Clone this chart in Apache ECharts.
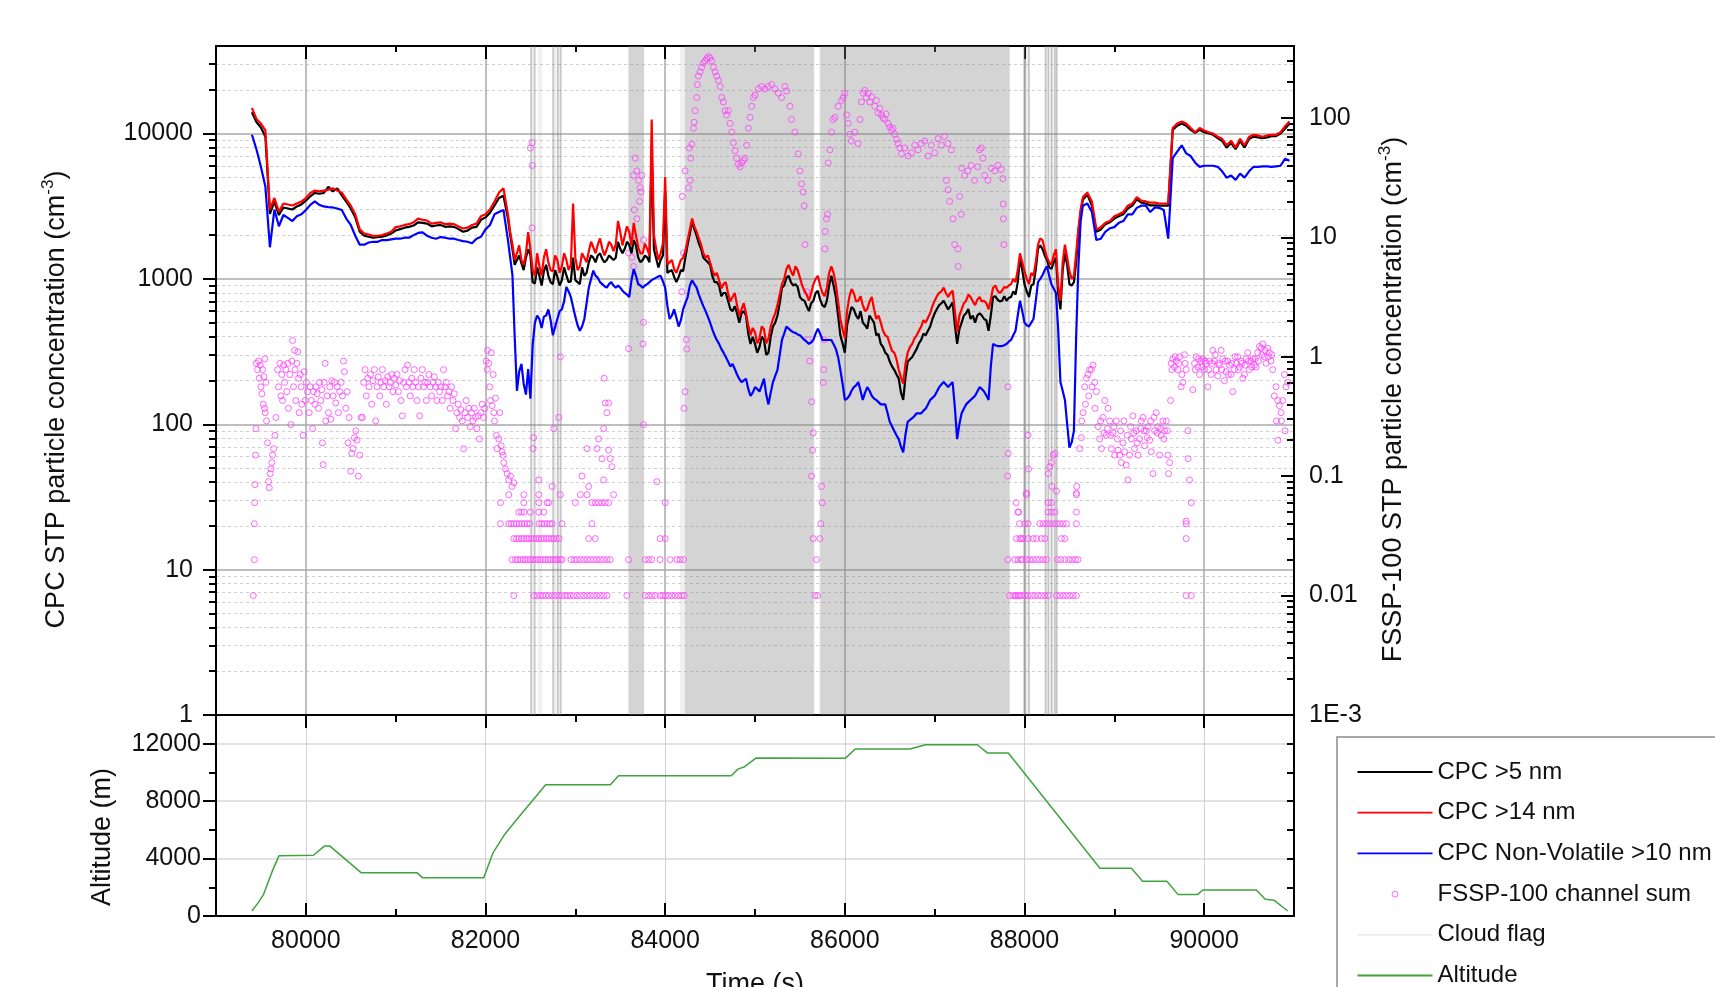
<!DOCTYPE html>
<html>
<head>
<meta charset="utf-8">
<script src="https://cdn.jsdelivr.net/npm/echarts@6/dist/echarts.min.js"></script>
<style>
  html, body { margin: 0; padding: 0; background: #fff; }
  #main { width: 1715px; height: 987px; }
</style>
</head>
<body>
<div id="main"></div>
<script>
// time grid of the CPC records: first sample and step (s)
var t0 = 79400, dt = 50;
// extra in-between samples across the noisy cloud section (s)
var tMid0 = 82275;

// CPC >5 nm (cm-3), one value per 50 s, rows of 1000 s
var cpc5 = [
  14000, 12000, 11000, 9500, 2800, 3400, 2750, 3100, 3050, 3000, 3150, 3250,
  3450, 3700, 3900, 3850, 3900, 4300, 4000, 4200, 3750, 3400, 3050, 2650, 2110, 1980, 1950, 1920, 1940, 1950, 1990, 2050,
  2150, 2200, 2250, 2280, 2330, 2450, 2430, 2400, 2300, 2330, 2350, 2280, 2300, 2280, 2200, 2110, 2150, 2250, 2280, 2550,
  2650, 2850, 3200, 3600, 3730, 2600, 1600, 1350, 1280, 1400, 1450, 930, 1050, 1130, 1050, 920, 1030, 980, 1060, 960,
  980, 920, 1050, 1300, 1400, 1450, 1370, 1350, 1400, 1400, 1610, 1610, 1720, 1850, 1400, 1350, 1400, 7700, 1380, 1350,
  4000, 1130, 1030, 1030, 1130, 1720, 2500, 1980, 1610, 1350, 1250, 950, 900, 800, 708, 600, 580, 580, 560, 357,
  357, 340, 380, 311, 470, 560, 870, 1020, 950, 920, 750, 708, 600, 708, 830, 660, 708, 1050, 750, 409,
  311, 560, 617, 530, 500, 455, 530, 409, 357, 311, 270, 237, 206, 147, 270, 290, 330, 380, 409, 470,
  580, 660, 708, 617, 690, 357, 500, 580, 530, 500, 580, 530, 440, 750, 720, 708, 708, 750, 780, 1400,
  920, 750, 920, 1610, 1610, 1350, 1170, 1400, 617, 1500, 920, 950, 2100, 3500, 3800, 3200, 2110, 2190, 2380, 2450,
  2600, 2700, 2780, 3050, 3190, 3530, 3350, 3300, 3200, 3200, 3190, 3190, 3190, 10600, 11300, 11700, 11300, 10600, 10100, 10600,
  10200, 10000, 9800, 9300, 8900, 8000, 8600, 7800, 8900, 8000, 9200, 9500, 9400, 9300, 9400, 9600, 9600, 10000, 10800, 11700
];
var cpc5Mid = [
  2000, 1250, 1450, 1150, 1600, 950, 1200, 900, 1250, 950, 1150, 900, 1200, 950, 1400,
  950, 1200, 1100, 1450, 1300, 1500, 1300, 1450, 1350, 1800, 1500, 1800, 1500, 1700, 1300, 1450, 1300, 1600, 1200, 1450,
  1100, 1150, 950, 1150, 1400, 2050, 2200, 1750, 1400, 1300, 1050, 950, 760, 800, 620, 650, 500, 600, 420, 400,
  310, 400, 300, 400, 500, 680, 900, 1050, 900, 880, 720, 650, 680, 800, 720, 640, 900, 900, 560, 360,
  480, 640, 560, 600, 480, 560, 500, 420, 340, 300, 250, 220, 165, 210, 280, 310, 360, 420, 440, 530,
  620, 680, 660, 650, 480, 450, 560, 620, 560, 560, 560, 520, 560, 760, 700, 760, 740, 820, 950, 1150,
  820, 900, 1150, 1700, 1450, 1200, 1300, 800, 1150, 1250, 900, 1300, 2900
];

// CPC >14 nm (cm-3)
var cpc14 = [
  15000, 12600, 11700, 10500, 3000, 3600, 2900, 3300, 3250, 3200, 3300, 3400,
  3600, 3900, 4050, 4000, 4050, 4100, 4200, 4050, 3920, 3520, 3190, 2780, 2190, 2050, 2020, 1980, 1980, 2000, 2050, 2110,
  2270, 2300, 2350, 2380, 2450, 2600, 2550, 2520, 2400, 2430, 2450, 2380, 2400, 2380, 2290, 2220, 2250, 2350, 2400, 2700,
  2780, 3000, 3410, 3920, 4200, 2780, 1720, 1500, 1350, 1500, 1600, 1050, 1220, 1400, 1300, 1130, 1350, 1220, 1350, 1250,
  1400, 1220, 1400, 1550, 1650, 1720, 1610, 1600, 1720, 1720, 2110, 1980, 2100, 2430, 1650, 1500, 1610, 12500, 1610, 1500,
  5000, 1300, 1170, 1220, 1400, 1850, 2600, 2110, 1720, 1400, 1300, 1050, 980, 920, 800, 750, 660, 617, 580, 410,
  430, 390, 450, 390, 530, 660, 920, 1170, 1130, 1220, 1020, 830, 708, 920, 1050, 800, 870, 1220, 920, 530,
  390, 750, 800, 708, 660, 617, 750, 530, 500, 409, 357, 311, 237, 190, 311, 357, 409, 470, 500, 580,
  708, 800, 870, 750, 830, 430, 617, 708, 750, 660, 750, 708, 617, 870, 830, 830, 870, 920, 950, 1500,
  1130, 920, 1050, 1720, 1850, 1400, 1250, 1600, 708, 1720, 1130, 1050, 2200, 3650, 3920, 3410, 2190, 2270, 2430, 2500,
  2700, 2780, 2880, 3190, 3300, 3650, 3450, 3410, 3350, 3350, 3300, 3300, 3300, 10900, 11700, 12100, 11700, 10900, 10200, 10900,
  10500, 10200, 10000, 9500, 9200, 8300, 8900, 8000, 9200, 8300, 9500, 9800, 9700, 9500, 9700, 9800, 9800, 10200, 11200, 12100
];
var cpc14Mid = [
  2100, 1350, 1700, 1250, 2100, 1150, 1500, 1050, 1600, 1150, 1450, 1100, 1500, 1150, 3300,
  1150, 1500, 1300, 1800, 1500, 1900, 1450, 1800, 1550, 2500, 1700, 2300, 1700, 2000, 1500, 1750, 1450, 2000, 1350, 1750,
  1250, 1350, 1100, 1350, 1550, 2200, 2300, 1900, 1500, 1450, 1150, 1100, 860, 950, 700, 800, 560, 680, 480, 460,
  360, 470, 360, 470, 580, 780, 1000, 1250, 1050, 1150, 900, 780, 800, 1000, 900, 760, 1100, 1100, 700, 450,
  600, 850, 700, 760, 600, 700, 620, 560, 440, 400, 320, 280, 210, 260, 340, 390, 440, 520, 540, 650,
  760, 820, 800, 800, 600, 560, 680, 780, 700, 720, 700, 680, 720, 900, 800, 880, 900, 1000, 1150, 1300,
  1000, 1100, 1300, 1900, 1600, 1300, 1450, 900, 1300, 1400, 1000, 1500, 3000
];

// CPC Non-Volatile >10 nm (cm-3)
var cpcNV = [
  9800, 7800, 5900, 4300, 1650, 3000, 2300, 2750, 2630, 2500, 2700, 2780,
  2980, 3230, 3410, 3230, 3150, 3120, 3100, 3050, 2980, 2600, 2350, 1980, 1720, 1720, 1780, 1800, 1800, 1850, 1850, 1870,
  1890, 1890, 1920, 1920, 2000, 2070, 2090, 1980, 1920, 1890, 1940, 1920, 1890, 1890, 1850, 1820, 1800, 1760, 1890, 1950,
  2190, 2350, 2780, 2880, 2980, 1850, 1060, 170, 260, 160, 150, 500, 530, 550, 617, 409, 530, 617, 880, 750,
  550, 440, 530, 870, 1140, 1020, 920, 870, 950, 870, 870, 800, 750, 1170, 920, 870, 920, 980, 1020, 1050,
  870, 530, 617, 470, 617, 750, 980, 870, 708, 600, 500, 409, 357, 311, 270, 260, 220, 195, 206, 157,
  180, 168, 206, 137, 195, 237, 380, 470, 440, 425, 409, 380, 357, 380, 455, 380, 380, 380, 330, 237,
  147, 157, 180, 195, 147, 180, 157, 147, 137, 137, 104, 90, 79, 64, 104, 110, 119, 119, 128, 147,
  157, 180, 195, 180, 195, 79, 119, 137, 147, 157, 180, 168, 147, 357, 345, 345, 357, 380, 440, 708,
  500, 470, 530, 950, 1060, 1220, 920, 800, 195, 147, 69, 90, 1220, 3190, 3300, 2880, 1850, 1890, 2110, 2230,
  2270, 2430, 2500, 2780, 2780, 3080, 3190, 3190, 2880, 3100, 3080, 2980, 1890, 6770, 7500, 8300, 7300, 7000, 6300, 5900,
  6000, 6000, 6000, 5900, 5500, 4970, 5150, 4800, 5300, 4970, 5500, 5900, 5900, 5950, 5950, 5900, 5950, 6000, 6700, 6500
];
var cpcNVMid = [
  1400, 400, 230, 190, 240, 350, 560, 460, 560, 520, 470, 600, 700, 820, 640,
  480, 470, 680, 1000, 1050, 950, 890, 920, 900, 900, 830, 780, 980, 1050, 900, 900, 950, 1000, 1040, 960,
  650, 560, 540, 520, 680, 900, 920, 780, 650, 550, 450, 380, 330, 290, 250, 240, 205, 200, 175, 165,
  175, 185, 160, 165, 215, 300, 420, 455, 430, 415, 395, 370, 365, 420, 420, 380, 380, 355, 290, 190,
  150, 170, 185, 170, 165, 170, 150, 142, 137, 120, 97, 84, 70, 85, 107, 114, 119, 124, 137, 152,
  168, 188, 188, 188, 130, 100, 128, 142, 152, 168, 175, 158, 250, 350, 345, 350, 370, 410, 560, 600,
  480, 500, 700, 1000, 1150, 1050, 860, 450, 170, 100, 75, 400, 2500
];

// altitude (m) against time (s)
var altitude = [
  [79400, 350], [79470, 930], [79530, 1510], [79620, 3020], [79700, 4190], [80085, 4230], [80210, 4880],
  [80265, 4880], [80615, 3020], [81235, 3020], [81300, 2670], [81980, 2670], [82085, 4420], [82215, 5700],
  [82320, 6510], [82670, 9140], [83390, 9140], [83480, 9770], [84735, 9770], [84810, 10230], [84885, 10400],
  [85010, 11000], [86005, 10980], [86115, 11630], [86725, 11630], [86900, 11930], [87475, 11930], [87590, 11350],
  [87820, 11350], [88840, 3330], [89190, 3330], [89315, 2420], [89585, 2420], [89710, 1490], [89925, 1490],
  [89985, 1810], [90580, 1810], [90680, 1160], [90780, 1090], [90930, 350]
];

// FSSP-100 channel sum (cm-3): counts that sit on the lowest discrete levels
var fsspLevels = [0.01, 0.02, 0.03, 0.04, 0.05, 0.06, 0.07];
var fsspRow001 = [79415, 82315, 82537, 82574, 82611, 82641, 82670, 82704, 82741, 82778, 82815, 82852, 82889, 82915,
  82944, 82981, 83019, 83056, 83093, 83130, 83167, 83204, 83241, 83278, 83315, 83352, 83574, 83778, 83815, 83852,
  83889, 83944, 83974, 84004, 84037, 84074, 84111, 84148, 84185, 84211, 85667, 85696, 87833, 87870, 87893, 87907,
  87930, 87944, 87967, 88004, 88041, 88078, 88115, 88152, 88189, 88226, 88263, 88356, 88393, 88430, 88467, 88504,
  88541, 88578, 89800, 89856];
var fsspRow002 = [79426, 82296, 82333, 82359, 82389, 82419, 82444, 82470, 82500, 82530, 82556, 82581, 82611, 82641,
  82667, 82696, 82722, 82752, 82778, 82804, 82833, 82852, 82952, 82989, 83019, 83056, 83093, 83130, 83167, 83204,
  83241, 83278, 83315, 83352, 83389, 83593, 83778, 83815, 83852, 83944, 84056, 84130, 84167, 84204, 85685, 87815,
  87893, 87930, 87963, 87974, 88022, 88059, 88096, 88133, 88170, 88207, 88244, 88367, 88404, 88448, 88493, 88530,
  88567, 88596];
var fsspRow003 = [82315, 82344, 82370, 82400, 82426, 82456, 82481, 82507, 82537, 82567, 82593, 82622, 82648, 82678,
  82704, 82733, 82759, 82789, 82819, 83148, 83222, 83944, 84000, 85648, 85722, 87911, 87948, 87963, 87985, 88041,
  88096, 88133, 88189, 88226, 88411, 88448, 89800];
var fsspRow004 = [79426, 82167, 82259, 82285, 82315, 82344, 82374, 82404, 82433, 82463, 82493, 82596, 82626, 82656,
  82685, 82715, 82741, 82852, 83185, 85733, 87944, 88004, 88041, 88170, 88207, 88244, 88281, 88319, 88356, 88393,
  88430, 88467, 88578, 89800];
var fsspRow005 = [82370, 82400, 82430, 82500, 82593, 82648, 87926, 87935, 88263, 88300, 88337, 88578];
var fsspRow006 = [79430, 82167, 82426, 82593, 82685, 82704, 83000, 83185, 83222, 83259, 83296, 83333, 83370, 84000,
  85748, 87907, 88263, 88300, 89856];
var fsspRow007 = [82259, 82426, 82593, 82833, 83056, 83130, 83426, 88022, 88578];

// FSSP-100 channel sum, remaining samples [time, cm-3]
var fsspPoints = [
  [79433,0.085],[79440,0.15],[79445,0.25],[79448,0.88],[79463,0.78],[79474,0.92],[79481,0.66],[79493,0.85],
  [79500,0.56],[79511,0.49],[79519,0.78],[79526,0.40],[79533,0.68],[79541,0.37],[79548,0.34],[79556,0.61],
  [79544,0.96],[79563,0.29],[79574,0.19],[79585,0.09],[79593,0.08],[79604,0.105],[79611,0.115],[79622,0.13],
  [79630,0.15],[79641,0.17],[79656,0.22],[79667,0.31],[79685,0.78],[79696,0.56],[79711,0.88],[79722,0.47],
  [79733,0.71],[79741,0.43],[79752,0.85],[79763,0.61],[79778,0.78],[79789,0.51],[79800,0.88],[79807,0.37],
  [79822,0.71],[79833,0.27],[79844,0.92],[79852,1.37],[79863,0.56],[79874,1.13],[79881,0.78],[79889,0.43],
  [79900,0.88],[79911,1.1],[79919,0.66],[79926,0.34],[79937,0.71],[79948,0.56],[79956,0.40],[79970,0.22],
  [79981,0.75],[79993,0.43],[80007,0.61],[80019,0.51],[80037,0.34],[80048,0.56],[80063,0.43],[80074,0.25],
  [80085,0.51],[80100,0.40],[80111,0.56],[80126,0.49],[80141,0.37],[80152,0.61],[80167,0.43],[80178,0.53],
  [80185,0.19],[80193,0.125],[80204,0.61],[80215,0.88],[80222,0.29],[80237,0.47],[80252,0.34],[80267,0.56],
  [80278,0.30],[80289,0.63],[80304,0.47],[80319,0.61],[80333,0.41],[80348,0.56],[80363,0.34],[80378,0.51],
  [80393,0.61],[80407,0.47],[80419,0.92],[80430,0.75],[80444,0.37],[80459,0.51],[80470,0.19],[80481,0.31],
  [80500,0.11],[80511,0.155],[80526,0.17],[80541,0.21],[80556,0.24],[80570,0.2],[80585,0.10],[80600,0.15],
  [80615,0.31],[80630,0.31],[80644,0.61],[80659,0.78],[80674,0.47],[80689,0.66],[80704,0.56],[80719,0.71],
  [80733,0.40],[80748,0.63],[80763,0.78],[80778,0.29],[80793,0.56],[80807,0.68],[80822,0.47],[80837,0.61],
  [80852,0.78],[80867,0.56],[80881,0.63],[80896,0.40],[80911,0.68],[80926,0.56],[80941,0.61],[80956,0.71],
  [80970,0.51],[80985,0.66],[81000,0.58],[81015,0.71],[81030,0.51],[81044,0.63],[81059,0.43],[81074,0.32],
  [81089,0.61],[81104,0.78],[81119,0.56],[81133,0.85],[81148,0.61],[81163,0.47],[81178,0.66],[81193,0.56],
  [81207,0.78],[81222,0.61],[81237,0.43],[81252,0.56],[81267,0.32],[81281,0.66],[81296,0.78],[81311,0.56],
  [81326,0.61],[81341,0.43],[81356,0.61],[81370,0.71],[81385,0.56],[81400,0.47],[81415,0.61],[81430,0.68],
  [81444,0.56],[81459,0.43],[81474,0.61],[81489,0.51],[81504,0.56],[81519,0.43],[81533,0.78],[81548,0.56],
  [81563,0.61],[81578,0.47],[81593,0.51],[81607,0.37],[81622,0.56],[81637,0.43],[81652,0.49],[81667,0.25],
  [81681,0.34],[81696,0.40],[81711,0.31],[81726,0.36],[81741,0.29],[81756,0.17],[81770,0.34],[81785,0.43],
  [81800,0.31],[81815,0.37],[81830,0.26],[81844,0.34],[81859,0.29],[81874,0.37],[81889,0.31],[81904,0.25],
  [81919,0.32],[81933,0.205],[81948,0.34],[81963,0.40],[81978,0.31],[81993,0.37],[82007,0.92],[82022,1.13],
  [82037,0.88],[82019,0.78],[82048,0.56],[82056,0.43],[82063,1.08],[82074,0.39],[82085,0.71],[82093,0.34],
  [82100,0.29],[82111,0.45],[82122,0.22],[82130,0.17],[82148,0.205],[82159,0.34],[82174,0.18],[82185,0.16],
  [82196,0.15],[82204,0.13],[82222,0.115],[82241,0.105],[82259,0.093],[82278,0.1],[82296,0.082],[82315,0.088],
  [82741,0.082],[82593,0.093],[83074,0.1],[83148,0.082],[83315,0.093],[83407,0.12],[83389,0.14],[83296,0.14],
  [83370,0.165],[83241,0.17],[83130,0.17],[83259,0.205],[82537,0.21],[82530,0.17],[83315,0.25],[83352,0.34],
  [83370,0.41],[83333,0.41],[83322,0.66],[82759,0.25],[82815,0.31],[83759,0.27],[82519,12],[82519,62],
  [82500,56],[82522,40],[82833,1.0],[83593,1.17],[83759,1.94],[83752,1.28],[82759,1.8],[83907,0.09],
  [83667,46],[83685,36],[83704,30],[83648,33],[83722,26],[83715,20],[83656,17],[83685,14.3],[83641,10.3],
  [83630,6.8],[83648,5.7],[83759,9.5],[83593,7.4],[83741,33],[83730,24],
  [84185,3.5],[84204,7.4],[84211,0.37],[84222,0.51],[84241,1.16],[84236,1.39],[84190,22],[84222,36],
  [84259,26],[84278,30],[84285,46],[84270,56],[84296,60],[84315,82],[84322,92],[84333,115],[84352,148],
  [84359,190],[84370,224],[84389,243],[84407,265],[84426,288],[84444,300],[84463,313],[84481,326],[84500,318],
  [84519,300],[84537,265],[84556,243],[84574,224],[84593,206],[84611,183],[84630,148],[84648,136],[84667,115],
  [84685,106],[84704,115],[84722,90],[84741,76],[84759,62],[84778,53],[84796,46],[84815,41],[84833,39],
  [84852,42],[84870,44],[84889,46],[84907,59],[84926,82],[84944,101],[84963,125],[84981,148],[85000,155],
  [85037,175],[85074,183],[85111,175],[85148,183],[85185,190],[85222,175],[85259,161],[85296,148],[85333,183],
  [85352,168],[85389,125],[85407,97],[85444,76],[85481,50],[85500,36],[85519,28],[85537,24],[85548,18.4],
  [85556,8.7],[85574,3.5],[85593,1.39],[85611,0.92],[85630,0.42],[85648,0.23],[85641,0.165],[85630,0.1],
  [85741,0.082],[85759,0.61],[85765,0.78],[85770,1.39],[85778,8.0],[85781,11.2],[85796,14.3],[85807,15.6],
  [85815,42],[85833,54],[85852,76],[85870,97],[85889,101],[85926,125],[85963,140],[85981,148],[86000,161],
  [86019,106],[86037,90],[86056,73],[86074,64],[86111,76],[86148,61],[86167,97],[86185,136],[86204,161],
  [86222,170],[86241,148],[86260,160],[86278,136],[86300,150],[86333,125],[86350,140],[86370,110],[86390,120],
  [86407,106],[86425,100],[86444,97],[86460,108],[86481,90],[86500,84],[86519,79],[86537,82],[86556,73],
  [86575,66],[86593,61],[86612,56],[86630,50],[86667,56],[86704,48],[86741,51],[86778,59],[86815,54],
  [86852,61],[86889,64],[86926,48],[86963,59],[87000,51],[87037,67],[87074,59],[87111,70],[87148,61],
  [87185,54],[87130,30],[87150,25],[87167,20],[87204,14.3],[87222,8.7],[87259,8.0],[87262,5.7],[87278,22],
  [87296,15.6],[87300,38],[87333,33],[87370,36],[87407,40],[87444,30],[87481,39],[87500,54],[87519,56],
  [87537,46],[87556,33],[87593,30],[87630,38],[87667,36],[87704,40],[87741,37],[87759,31],[87762,19],
  [87765,14.3],[87770,8.7],[87815,0.56],[87818,0.155],[87812,0.1],
  [88041,0.22],[88045,0.115],[88022,0.072],[88263,0.105],[88281,0.12],[88300,0.13],[88319,0.15],[88337,0.155],
  [88356,0.075],[88305,0.082],[88578,0.072],[88582,0.082],
  [88615,0.17],[88633,0.21],[88637,0.29],[88652,0.34],[88670,0.56],[88689,0.66],[88707,0.71],[88726,0.78],
  [88744,0.78],[88763,0.85],[88781,0.61],[88800,0.51],[88785,0.37],[88752,0.56],[88715,0.47],[88678,0.40],
  [88819,0.26],[88837,0.205],[88856,0.17],[88874,0.31],[88893,0.43],[88911,0.22],[88930,0.37],[88948,0.29],
  [88967,0.17],[88985,0.23],[89004,0.15],[89022,0.29],[89041,0.165],[89059,0.15],[89078,0.13],[89096,0.19],
  [89115,0.16],[89133,0.124],[89152,0.093],[89170,0.15],[89189,0.205],[89207,0.32],[89226,0.17],[89244,0.24],
  [89263,0.15],[89281,0.205],[89300,0.29],[89319,0.31],[89337,0.18],[89356,0.24],[89374,0.26],[89393,0.2],
  [89411,0.16],[89430,0.105],[89448,0.24],[89467,0.34],[89485,0.26],[89504,0.15],[89522,0.22],[89541,0.29],
  [89559,0.24],[89578,0.29],[89596,0.15],[89604,0.105],[89615,0.13],[89626,0.43],
  [88848,0.29],[88885,0.23],[88922,0.25],[88959,0.22],[88996,0.26],[89033,0.205],[89070,0.24],[89107,0.29],
  [89144,0.22],[89181,0.26],[89218,0.23],[89255,0.19],[89293,0.25],[89330,0.24],[89367,0.21],[89404,0.29],
  [89441,0.31],[89478,0.23],[89515,0.25],[89552,0.205],[89589,0.24],
  [89633,0.88],[89652,0.96],[89670,0.82],[89689,0.92],[89707,0.78],[89726,1.0],[89744,0.56],[89763,0.61],
  [89781,1.04],[89800,0.78],[89819,0.24],[89822,0.14],[89837,0.093],[89800,0.042],[89874,0.53],[89893,0.88],
  [89911,1.0],[89930,0.82],[89948,0.71],[89967,0.92],[89985,0.96],[90004,0.78],[90022,0.88],[90041,0.56],
  [90059,0.92],[90078,0.71],[90096,1.13],[90115,0.92],[90133,0.78],[90152,0.69],[90170,0.85],[90189,1.13],
  [90207,0.96],[90226,0.63],[90244,0.75],[90263,0.92],[90281,0.85],[90300,0.71],[90319,0.51],[90337,0.78],
  [90356,0.88],[90374,1.0],[90393,0.82],[90411,0.92],[90430,0.66],[90448,0.71],[90467,0.96],[90485,1.08],
  [90504,0.78],[90522,0.92],[90541,0.96],[90559,0.85],[90578,0.82],[90596,1.08],[90615,1.22],[90633,1.18],
  [90652,1.28],[90670,1.0],[90689,0.88],[90707,1.18],[90726,1.08],[90744,0.92],[90763,0.78],
  [89641,0.78],[89678,1.0],[89715,0.88],[89752,0.71],[89789,0.88],[89900,0.78],[89937,0.96],[89974,0.82],
  [90011,0.92],[90048,0.78],[90085,0.88],[90122,1.04],[90159,0.88],[90196,0.78],[90233,0.92],[90270,0.71],
  [90307,0.88],[90344,1.0],[90381,0.78],[90419,0.88],[90456,0.85],[90493,0.92],[90530,0.82],[90567,0.96],
  [90604,0.92],[90641,1.04],[90678,1.13],[90715,1.0],[90752,1.04],
  [90781,0.47],[90800,0.56],[90819,0.43],[90837,0.39],[90856,0.34],[90874,0.43],[90893,0.71],[90911,0.56],
  [90930,0.61],[90900,0.24],[90805,0.29],[90860,0.29],[90822,0.2]
];

// cloud flag intervals (s): solid flags, single-sample flags, weak flags
var cloudSolid = [[83590, 83765], [84220, 85655], [85725, 87835]];
var cloudLine = [[82500, 82518], [82538, 82556], [82745, 82763], [82796, 82814], [82828, 82846],
  [87988, 88006], [88040, 88058], [88226, 88244], [88256, 88274], [88293, 88311], [88330, 88348], [88350, 88368]];
var cloudFaint = [[82495, 82560], [82580, 82630], [82740, 82850], [84165, 84220], [85655, 85665],
  [85715, 85725], [87985, 88060], [88222, 88370]];

// axis ticks
var timeTicks = [80000, 82000, 84000, 86000, 88000, 90000];
var cpcMinor = [2, 3, 4, 5, 6, 7, 8, 9, 20, 30, 40, 50, 60, 70, 80, 90, 200, 300, 400, 500, 600, 700, 800, 900,
  2000, 3000, 4000, 5000, 6000, 7000, 8000, 9000, 20000, 30000];
var fsspMinor = [0.002, 0.003, 0.004, 0.005, 0.006, 0.007, 0.008, 0.009, 0.02, 0.03, 0.04, 0.05, 0.06, 0.07, 0.08, 0.09,
  0.2, 0.3, 0.4, 0.5, 0.6, 0.7, 0.8, 0.9, 2, 3, 4, 5, 6, 7, 8, 9, 20, 30, 40, 50, 60, 70, 80, 90, 200, 300];
var altMinor = [2000, 6000, 10000];
var altRightTicks = [2000, 4000, 6000, 8000, 10000, 12000];

window.onload = function () {
  var chart = echarts.init(document.getElementById('main'));
  var FONT = 'Liberation Sans, Arial, sans-serif';
  var blackLine = { color: '#000', width: 2 };
  // legend glyphs: a thin bar for lines, a small ring for the FSSP points
  var LINE_ICON = 'path://M0,0L0,0M75,14L75,14M0,6.1L75,6.1L75,7.9L0,7.9Z';
  var RING_ICON = 'path://M0,0L0,0M75,14L75,14M34.5,7A3,3,0,1,0,40.5,7A3,3,0,1,0,34.5,7Z';

  // main 50 s samples plus the in-between samples, in time order
  function cpcSeries(values, mids) {
    var pts = values.map(function (v, i) { return [t0 + i * dt, v]; });
    mids.forEach(function (v, i) { pts.push([tMid0 + i * dt, v]); });
    pts.sort(function (a, b) { return a[0] - b[0]; });
    return pts;
  }

  var fssp = fsspPoints.slice();
  [fsspRow001, fsspRow002, fsspRow003, fsspRow004, fsspRow005, fsspRow006, fsspRow007].forEach(function (row, k) {
    row.forEach(function (t) { fssp.push([t, fsspLevels[k]]); });
  });

  var bands = [];
  cloudFaint.forEach(function (b) {
    bands.push([{ xAxis: b[0], itemStyle: { color: 'rgba(128,128,128,0.12)' } }, { xAxis: b[1] }]);
  });
  cloudLine.forEach(function (b) {
    bands.push([{ xAxis: b[0], itemStyle: { color: 'rgba(128,128,128,0.38)' } }, { xAxis: b[1] }]);
  });
  cloudSolid.forEach(function (b) {
    bands.push([{ xAxis: b[0], itemStyle: { color: 'rgba(128,128,128,0.34)' } }, { xAxis: b[1] }]);
  });

  function timeAxis(grid, pos, extra) {
    var a = {
      type: 'value', gridIndex: grid, position: pos, min: 79000, max: 91000, interval: 1000,
      axisLine: { show: false }, axisLabel: { show: false }, splitLine: { show: false },
      axisTick: { show: false }
    };
    for (var k in extra) a[k] = extra[k];
    return a;
  }

  var option = {
    animation: false,
    backgroundColor: '#fff',
    textStyle: { fontFamily: FONT },
    graphic: [
      { type: 'rect', z: 0, silent: true, shape: { x: 1337, y: 737, width: 500, height: 400 },
        style: { fill: '#fff', stroke: '#8c8c8c', lineWidth: 1.5 } }
    ],
    grid: [
      { left: 216, top: 46, width: 1078, height: 669, outerBoundsMode: 'none' },
      { left: 216, top: 715, width: 1078, height: 201, outerBoundsMode: 'none' }
    ],
    legend: {
      orient: 'vertical', left: 1357, top: 760, width: 400, height: 320,
      padding: 0,
      itemWidth: 75, itemHeight: 14, itemGap: 16.7,
      selectedMode: false, z: 5,
      textStyle: { fontSize: 24, color: '#111', fontFamily: FONT },
      data: [
        { name: 'CPC >5 nm', icon: LINE_ICON },
        { name: 'CPC >14 nm', icon: LINE_ICON },
        { name: 'CPC Non-Volatile >10 nm', icon: LINE_ICON },
        { name: 'FSSP-100 channel sum', icon: RING_ICON,
          itemStyle: { color: 'transparent', borderColor: '#ff40ff', borderWidth: 1 } },
        { name: 'Cloud flag', icon: LINE_ICON },
        { name: 'Altitude', icon: LINE_ICON }
      ]
    },
    xAxis: [
      timeAxis(0, 'bottom', { axisLine: { show: true, lineStyle: blackLine },
        axisTick: { show: true, length: 7, lineStyle: blackLine } }),
      timeAxis(0, 'bottom', { axisTick: { show: true, customValues: timeTicks, length: 13, lineStyle: blackLine },
        splitLine: { show: true, lineStyle: { color: '#a8a8a8', width: 1.5 } } }),
      timeAxis(0, 'top', { axisLine: { show: true, lineStyle: blackLine },
        axisTick: { show: true, inside: true, length: 6, lineStyle: blackLine } }),
      timeAxis(0, 'top', { axisTick: { show: true, inside: true, customValues: timeTicks, length: 13, lineStyle: blackLine } }),
      timeAxis(1, 'bottom', {
        axisLine: { show: true, lineStyle: blackLine },
        axisTick: { show: true, inside: true, length: 7, lineStyle: blackLine },
        axisLabel: { show: true, customValues: timeTicks, fontSize: 25, color: '#111', margin: 13,
          formatter: function (v) { return String(v); } },
        name: 'Time (s)', nameLocation: 'middle', nameGap: 55,
        nameTextStyle: { fontSize: 27, color: '#111' }
      }),
      timeAxis(1, 'bottom', { axisTick: { show: true, inside: true, customValues: timeTicks, length: 13, lineStyle: blackLine },
        splitLine: { show: true, lineStyle: { color: '#d2d2d2', width: 1 } } })
    ],
    yAxis: [
      { type: 'log', logBase: 10, gridIndex: 0, position: 'left', min: 1, max: 40000,
        axisLine: { show: true, lineStyle: blackLine },
        axisTick: { show: true, length: 13, lineStyle: blackLine },
        axisLabel: { fontSize: 25, color: '#111', margin: 23, showMaxLabel: false,
          formatter: function (v) { return String(Math.round(v)); } },
        splitLine: { show: true, lineStyle: { color: '#a8a8a8', width: 1.5 } },
        name: 'CPC STP particle concentration (cm{sup|-3})', nameLocation: 'middle', nameRotate: 90, nameGap: 142,
        nameTextStyle: { fontSize: 27, color: '#111', lineHeight: 34, padding: [0, 38, 0, 0],
          rich: { sup: { fontSize: 17, color: '#111', fontFamily: FONT, verticalAlign: 'top', lineHeight: 17 } } }
      },
      { type: 'log', logBase: 10, gridIndex: 0, position: 'left', min: 1, max: 40000,
        axisLine: { show: false }, axisLabel: { show: false },
        axisTick: { show: true, customValues: cpcMinor, length: 7, lineStyle: blackLine },
        splitLine: { show: true, lineStyle: { color: '#cfcfcf', width: 1, type: [3, 3] } }
      },
      { type: 'log', logBase: 10, gridIndex: 0, position: 'right', min: 0.001, max: 400,
        axisLine: { show: true, lineStyle: blackLine },
        axisTick: { show: true, inside: true, length: 13, lineStyle: blackLine },
        axisLabel: { fontSize: 25, color: '#111', margin: 15, showMaxLabel: false,
          formatter: function (v) { return v < 0.0015 ? '1E-3' : String(+v.toPrecision(3)); } },
        splitLine: { show: false },
        name: 'FSSP-100 STP particle concentration (cm{sup|-3})', nameLocation: 'middle', nameRotate: 90, nameGap: 83,
        nameTextStyle: { fontSize: 27, color: '#111', lineHeight: 34, padding: [0, 38, 0, 0],
          rich: { sup: { fontSize: 17, color: '#111', fontFamily: FONT, verticalAlign: 'top', lineHeight: 17 } } }
      },
      { type: 'log', logBase: 10, gridIndex: 0, position: 'right', min: 0.001, max: 400,
        axisLine: { show: false }, axisLabel: { show: false }, splitLine: { show: false },
        axisTick: { show: true, inside: true, customValues: fsspMinor, length: 7, lineStyle: blackLine }
      },
      { type: 'value', gridIndex: 1, position: 'left', min: 0, max: 14000, interval: 4000,
        axisLine: { show: true, lineStyle: blackLine },
        axisTick: { show: true, length: 13, lineStyle: blackLine },
        axisLabel: { fontSize: 25, color: '#111', margin: 15, showMaxLabel: false,
          formatter: function (v) { return String(v); } },
        splitLine: { show: true, lineStyle: { color: '#d9d9d9', width: 1.5 } },
        name: 'Altitude (m)', nameLocation: 'middle', nameRotate: 90, nameGap: 100,
        nameTextStyle: { fontSize: 27, color: '#111', padding: [0, 43, 0, 0] }
      },
      { type: 'value', gridIndex: 1, position: 'left', min: 0, max: 14000, interval: 2000,
        axisLine: { show: false }, axisLabel: { show: false }, splitLine: { show: false },
        axisTick: { show: true, customValues: altMinor, length: 7, lineStyle: blackLine }
      },
      { type: 'value', gridIndex: 1, position: 'right', min: 0, max: 14000, interval: 2000,
        axisLine: { show: true, lineStyle: blackLine }, axisLabel: { show: false }, splitLine: { show: false },
        axisTick: { show: true, inside: true, customValues: altRightTicks, length: 7, lineStyle: blackLine }
      }
    ],
    series: [
      { name: 'Cloud flag', type: 'line', xAxisIndex: 0, yAxisIndex: 0, data: [], symbol: 'none',
        lineStyle: { color: '#ececec', width: 2 }, itemStyle: { color: '#ececec' },
        markArea: { silent: true, data: bands } },
      { name: 'CPC >5 nm', type: 'line', xAxisIndex: 0, yAxisIndex: 0, data: cpcSeries(cpc5, cpc5Mid), symbol: 'none',
        lineStyle: { color: '#000', width: 2.2 }, itemStyle: { color: '#000' } },
      { name: 'CPC >14 nm', type: 'line', xAxisIndex: 0, yAxisIndex: 0, data: cpcSeries(cpc14, cpc14Mid), symbol: 'none',
        lineStyle: { color: '#ff0000', width: 2.2 }, itemStyle: { color: '#ff0000' } },
      { name: 'CPC Non-Volatile >10 nm', type: 'line', xAxisIndex: 0, yAxisIndex: 0, data: cpcSeries(cpcNV, cpcNVMid),
        symbol: 'none', lineStyle: { color: '#0000ff', width: 2.2 }, itemStyle: { color: '#0000ff' } },
      { name: 'FSSP-100 channel sum', type: 'scatter', xAxisIndex: 0, yAxisIndex: 2, data: fssp,
        symbol: 'circle', symbolSize: 6,
        itemStyle: { color: 'transparent', borderColor: '#ff40ff', borderWidth: 1 } },
      { name: 'Altitude', type: 'line', xAxisIndex: 4, yAxisIndex: 4, data: altitude, symbol: 'none',
        lineStyle: { color: '#3fa33f', width: 1.5 }, itemStyle: { color: '#3fa33f' } }
    ]
  };

  chart.setOption(option);
};
</script>
</body>
</html>
